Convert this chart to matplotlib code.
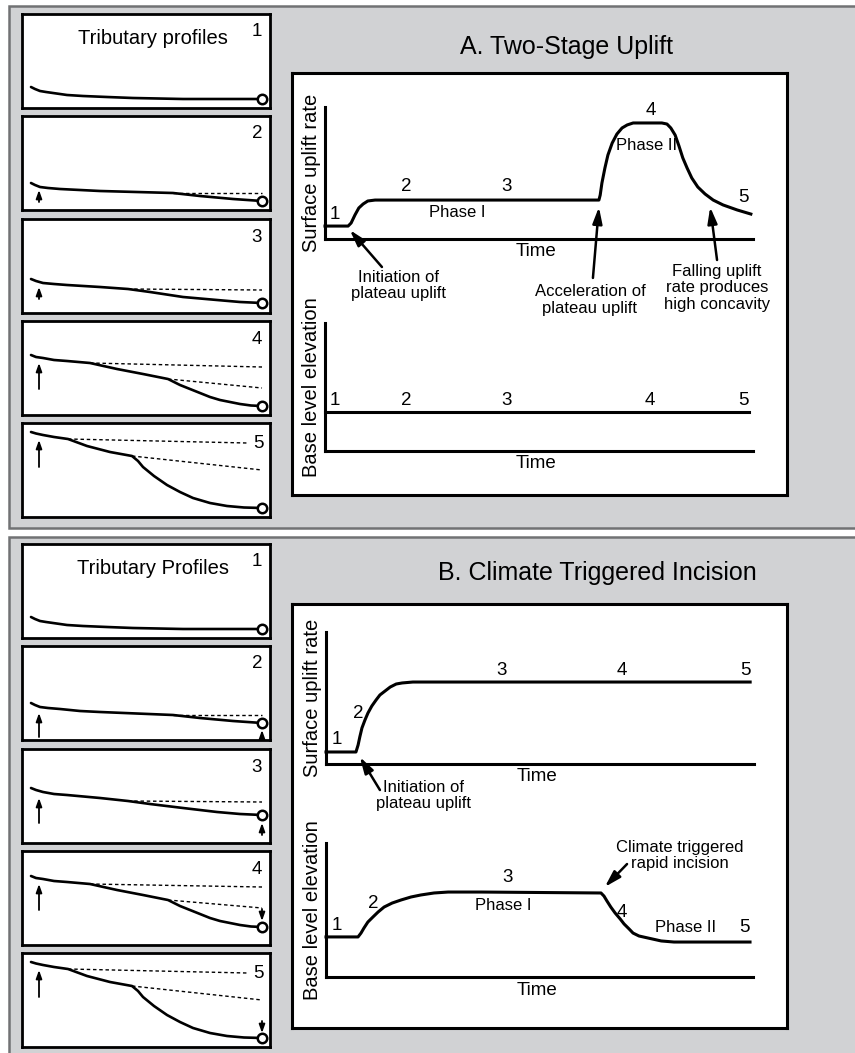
import matplotlib.pyplot as plt
from matplotlib.patches import Rectangle, ArrowStyle

plt.rcParams['font.family'] = ['Liberation Sans', 'DejaVu Sans']

# ---- curve data (time and value in % of axis) ----
A_up_t = [0, 5.4, 6.1, 7.0, 7.9, 8.9, 10.0, 11.7, 64.0, 64.3, 64.7, 65.4, 66.1, 67.1, 68.2,
          69.4, 70.6, 72.0, 78.7, 79.9, 80.8, 81.8, 82.7, 83.6, 84.6, 85.7, 87.1, 88.8,
          90.7, 93.0, 96.3, 99.5]
A_up_v = [9.8, 9.8, 12.1, 18.2, 23.5, 26.5, 28.8, 29.5, 29.5, 33.3, 42.4, 53.8, 63.6, 72.7,
          79.5, 84.1, 86.4, 87.9, 87.9, 87.1, 84.1, 78.8, 70.5, 61.4, 53.8, 46.2, 39.4, 34.1,
          29.5, 25.8, 22.0, 18.9]
A_low_t = [0, 99.1]
A_low_v = [30.5, 30.5]

B_up_t = [0, 7.0, 7.5, 7.9, 8.4, 9.1, 9.8, 10.7, 11.7, 12.6, 13.8, 15.0, 16.4, 17.8, 20.3, 99.1]
B_up_v = [9.1, 9.1, 14.4, 20.5, 27.3, 33.3, 38.6, 43.9, 48.5, 52.3, 55.3, 58.3, 60.6, 61.4,
          62.1, 62.1]
B_low_t = [0, 7.5, 8.2, 8.9, 9.8, 11.0, 12.2, 13.6, 15.5, 17.6, 19.9, 22.2, 25.3, 28.6, 36.3,
           64.4, 65.1, 65.8, 66.7, 67.7, 68.9, 69.8, 71.0, 71.9, 73.3, 75.4, 78.5, 81.5, 99.3]
B_low_v = [29.9, 29.9, 32.8, 36.6, 41.0, 44.8, 48.5, 52.2, 55.2, 57.5, 59.7, 61.2, 62.7, 63.4,
           63.4, 62.7, 60.4, 56.7, 52.2, 47.8, 43.3, 39.6, 35.8, 32.8, 30.6, 29.1, 26.9, 26.1,
           26.1]

# ---- tributary profiles (distance, depth below box top) ----
prof1 = [(9, 73), (13, 75), (18, 77), (24, 78), (31, 79), (45, 81), (61, 82), (85, 83),
         (111, 84), (161, 85), (240, 85)]
profA2 = [(9, 67), (13, 69), (18, 71), (26, 72), (38, 73), (58, 74), (78, 75), (151, 77),
          (178, 80), (211, 83), (240, 85)]
profA2_dash = [[(151, 77), (240, 77)]]
profA3 = [(9, 60), (14, 62), (21, 64), (32, 65), (45, 66), (78, 68), (106, 70), (128, 73),
          (161, 78), (195, 81), (218, 83), (240, 84)]
profA3_dash = [[(106, 70), (240, 71)]]
profA4 = [(9, 34), (14, 36), (21, 37), (32, 39), (45, 40), (68, 42), (95, 48), (121, 53),
          (146, 58), (152, 61), (158, 64), (168, 68), (178, 72), (188, 76), (198, 79),
          (208, 81), (218, 83), (229, 84.5), (240, 85)]
profA4_dash = [[(68, 42), (240, 46)], [(146, 58), (240, 67)]]
prof5 = [(9, 9), (14, 10.5), (21, 12), (32, 14), (46, 16), (65, 23), (88, 29), (110, 33),
         (116, 38), (121, 44), (132, 53), (145, 62), (158, 69), (171, 75), (188, 80),
         (205, 83), (222, 84.5), (240, 85)]
prof5_dash = [[(46, 16), (225, 20)], [(110, 33), (240, 47)]]

profB2 = [(9, 57), (13, 59), (18, 61), (26, 62), (38, 63), (58, 65), (78, 66), (151, 69),
          (178, 72), (211, 75), (240, 77)]
profB2_dash = [[(151, 69), (240, 69)]]
profB3 = [(9, 39), (14, 41), (21, 43), (32, 45), (45, 46), (78, 49), (106, 52), (128, 55),
          (161, 59), (195, 63), (218, 65), (240, 66)]
profB3_dash = [[(106, 52), (240, 53)]]
profB4 = [(9, 25), (14, 27), (21, 28), (32, 30), (45, 31), (68, 33), (95, 39), (121, 44),
          (146, 49), (152, 52), (158, 55), (168, 59), (178, 63), (188, 67), (198, 70),
          (208, 72), (218, 74), (229, 75.5), (240, 76)]
profB4_dash = [[(68, 33), (240, 36)], [(146, 49), (240, 57)]]

# arrows: (x, tail, tip)
A_arrows = [[], [(17, 86, 74)], [(17, 80, 68)], [(17, 68, 42)], [(17, 44, 17)]]
B_arrows = [[], [(17, 91, 67), (240, 91, 84)], [(17, 74, 49), (240, 86, 74)],
            [(17, 59, 33), (240, 58, 70)], [(17, 44, 17), (240, 68, 80)]]

W, H = 855, 1053
fig = plt.figure(figsize=(W / 100, H / 100), dpi=100)


def px_axes(x0, y0, x1, y1):
    return fig.add_axes([x0 / W, 1 - y1 / H, (x1 - x0) / W, (y1 - y0) / H])


# gray frames
for y0, y1 in [(6, 528), (537, 1080)]:
    fig.add_artist(Rectangle((9 / W, 1 - y1 / H), 900 / W, (y1 - y0) / H,
                             transform=fig.transFigure, facecolor='#d1d2d4',
                             edgecolor='#717274', lw=1.8, zorder=-5))

small_head = ArrowStyle('-|>', head_length=0.7, head_width=0.25)
big_head = ArrowStyle('-|>', head_length=0.75, head_width=0.22)


def profile_box(top, solid, dashed, arrows, num, title=None):
    ax = px_axes(22, top, 270, top + 94)
    ax.set_xlim(0, 248)
    ax.set_ylim(94, 0)
    ax.set_xticks([])
    ax.set_yticks([])
    for s in ax.spines.values():
        s.set_linewidth(2)
    for d in dashed:
        ax.plot([d[0][0], d[1][0]], [d[0][1], d[1][1]], color='k', lw=1.0,
                ls=(0, (2.5, 2)))
    xs = [p[0] for p in solid]
    ys = [p[1] for p in solid]
    ax.plot(xs, ys, color='k', lw=1.9, solid_capstyle='round', solid_joinstyle='round')
    ax.plot(xs[-1], ys[-1], 'o', ms=6.8, mfc='white', mec='k', mew=1.8, zorder=5)
    for x, tail, tip in arrows:
        ax.annotate('', xy=(x, tip), xytext=(x, tail),
                    arrowprops=dict(arrowstyle=small_head, color='k', lw=1.3,
                                    mutation_scale=7, shrinkA=0, shrinkB=0))
    if num == '5':
        ax.text(236, 20, num, fontsize=13.5, ha='center', va='center')
    else:
        ax.text(235, 18, num, fontsize=13.5, ha='center', va='center')
    if title:
        ax.text(131, 25, title, fontsize=14.5, ha='center', va='center')


def chart(box, t, v, ylabel):
    ax = px_axes(*box)
    ax.set_xlim(0, 100)
    ax.set_ylim(0, 100)
    ax.patch.set_alpha(0)
    ax.spines['top'].set_visible(False)
    ax.spines['right'].set_visible(False)
    ax.spines['left'].set_linewidth(2.2)
    ax.spines['bottom'].set_linewidth(2.2)
    ax.set_xticks([])
    ax.set_yticks([])
    ax.plot(t, v, color='k', lw=2.2, clip_on=False, solid_joinstyle='round')
    ax.set_ylabel(ylabel, fontsize=14.5, labelpad=3)
    ax.text(49.4, -9.8, 'Time', fontsize=13.5, ha='center', va='center')
    return ax


def white_box(box):
    ax = px_axes(*box)
    ax.set_xticks([])
    ax.set_yticks([])
    ax.set_facecolor('white')
    for s in ax.spines.values():
        s.set_linewidth(2.2)


def arrow(ax, tail, tip):
    ax.annotate('', xy=tip, xytext=tail, annotation_clip=False,
                arrowprops=dict(arrowstyle=big_head, color='k', lw=1.8,
                                mutation_scale=13, shrinkA=0, shrinkB=0))


def label(ax, s, x, y, size=13.5):
    ax.text(x, y, s, fontsize=size, ha='center', va='center', clip_on=False,
            linespacing=1.1)


# ---------------- Panel A ----------------
A_tops = [14, 116, 219, 321, 423]
A_prof = [prof1, profA2, profA3, profA4, prof5]
A_dash = [[], profA2_dash, profA3_dash, profA4_dash, prof5_dash]
for i in range(5):
    profile_box(A_tops[i], A_prof[i], A_dash[i], A_arrows[i], str(i + 1),
                'Tributary profiles' if i == 0 else None)

fig.text(566 / W, 1 - 47 / H, 'A. Two-Stage Uplift', fontsize=18, ha='center', va='center')
white_box((292, 73, 787, 495))

ax = chart((325, 107, 753, 239), A_up_t, A_up_v, 'Surface uplift rate')
label(ax, '1', 2.3, 18.2)
label(ax, '2', 18.9, 39.4)
label(ax, '3', 42.5, 39.4)
label(ax, 'Phase I', 30.8, 19.7, 12)
label(ax, '4', 76.2, 97)
label(ax, 'Phase II', 75.2, 70.5, 12)
label(ax, '5', 97.7, 31.8)
label(ax, 'Initiation of\nplateau uplift', 17.1, -35.2, 12)
arrow(ax, (13.3, -21.2), (5.8, 6.8))
label(ax, 'Acceleration of\nplateau uplift', 61.9, -46.2, 12)
arrow(ax, (62.6, -29.5), (64.0, 24.2))
label(ax, 'Falling uplift\nrate produces\nhigh concavity', 91.6, -37.1, 12)
arrow(ax, (91.6, -15.9), (90.0, 24.2))

ax = chart((325, 323, 753, 451), A_low_t, A_low_v, 'Base level elevation')
for s, x in zip(['1', '2', '3', '4', '5'], [2.3, 18.9, 42.3, 76.0, 97.7]):
    label(ax, s, x, 39.8)

# ---------------- Panel B ----------------
B_tops = [544, 646, 749, 851, 953]
B_prof = [prof1, profB2, profB3, profB4, prof5]
B_dash = [[], profB2_dash, profB3_dash, profB4_dash, prof5_dash]
for i in range(5):
    profile_box(B_tops[i], B_prof[i], B_dash[i], B_arrows[i], str(i + 1),
                'Tributary Profiles' if i == 0 else None)

fig.text(597 / W, 1 - 573 / H, 'B. Climate Triggered Incision', fontsize=18,
         ha='center', va='center')
white_box((292, 604, 787, 1028))

ax = chart((326, 632, 754, 764), B_up_t, B_up_v, 'Surface uplift rate')
label(ax, '1', 2.6, 18.2)
label(ax, '2', 7.5, 37.9)
label(ax, '3', 41.1, 71.2)
label(ax, '4', 69.2, 71.2)
label(ax, '5', 97.9, 71.2)
label(ax, 'Initiation of\nplateau uplift', 22.7, -23.9, 12)
arrow(ax, (12.6, -19.7), (7.9, 5.3))

ax = chart((326, 843, 753, 977), B_low_t, B_low_v, 'Base level elevation')
label(ax, '1', 2.6, 38.8)
label(ax, '2', 11.0, 55.2)
label(ax, '3', 42.6, 73.9)
label(ax, 'Phase I', 41.5, 53.0, 12)
label(ax, '4', 69.3, 48.5)
label(ax, 'Phase II', 84.3, 37.3, 12)
label(ax, '5', 98.1, 37.3)
label(ax, 'Climate triggered\nrapid incision', 82.9, 90.7, 12)
arrow(ax, (70.5, 84.3), (65.3, 67.2))

fig.savefig('out.png', dpi=100)
